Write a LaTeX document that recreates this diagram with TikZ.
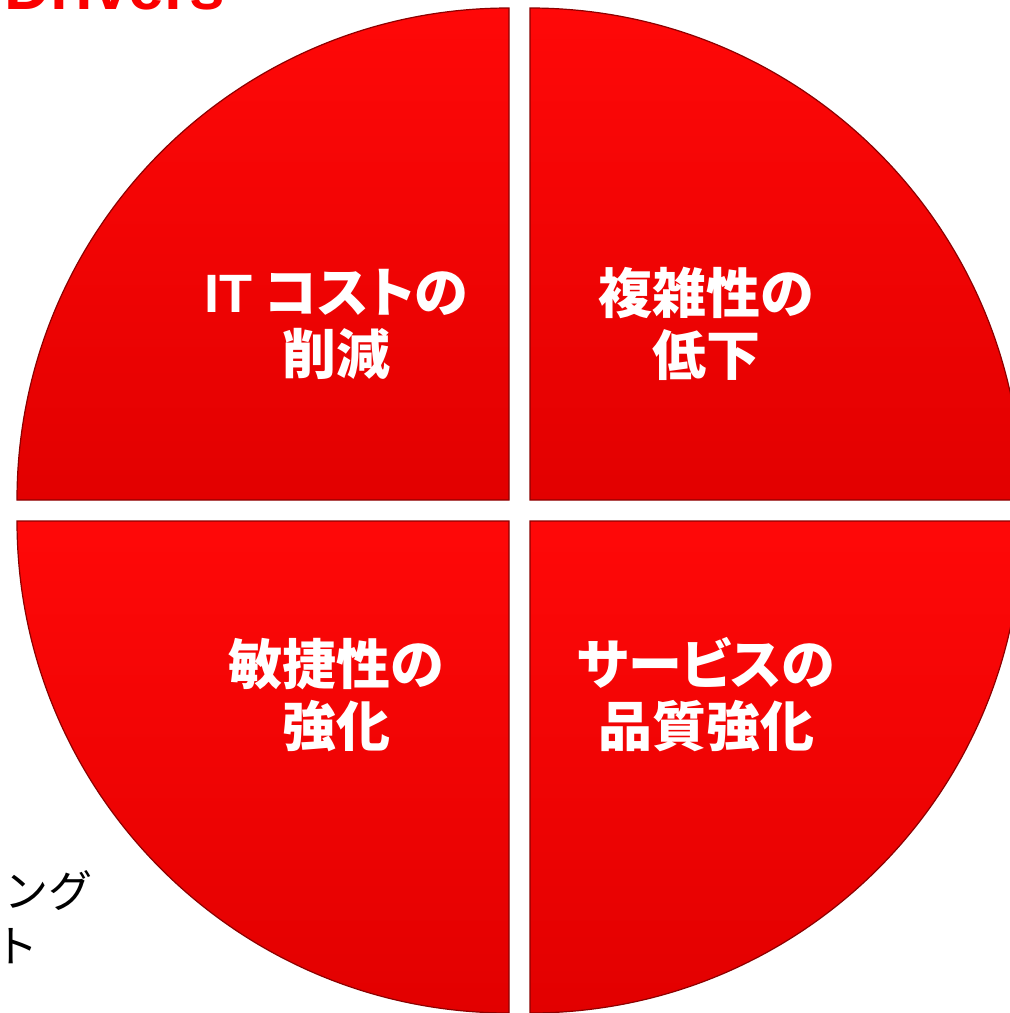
\documentclass[tikz,border=0pt]{standalone}
\usepackage{fontspec}
\newfontfamily\jp{Noto Sans CJK JP}
\newfontfamily\jpp[RawFeature=+palt]{Noto Sans CJK JP}
\newfontfamily\titlefont{Liberation Sans}
\definecolor{slicetop}{RGB}{255,8,8}
\definecolor{slicebot}{RGB}{226,0,0}
\definecolor{sliceedge}{RGB}{140,0,0}
\definecolor{titlered}{RGB}{250,0,0}
\tikzset{
  slice/.style={top color=slicetop,bottom color=slicebot,draw=sliceedge,line width=0.6pt,line join=miter},
  slicelabel/.style={text=white,font=\jp\bfseries\fontsize{27}{31}\selectfont,align=center,inner sep=0pt},
  sidelabel/.style={text=black,font=\jp\fontsize{22}{27}\selectfont,inner sep=0pt,anchor=east},
}
\begin{document}
\begin{tikzpicture}[x=0.5pt,y=-0.5pt]
\useasboundingbox (0,0) rectangle (1009,1013);
\fill[white] (0,0) rectangle (1009,1013);
% title (cut at top)
\node[anchor=base west,inner sep=0pt,text=titlered,font=\titlefont\bfseries\fontsize{32}{36}\selectfont] (title) at (4,9) {Drivers};
% partial side labels
\node[sidelabel] (side1) at (93,891) {ニング};
\node[sidelabel] (side2) at (39,946) {ント};
% quadrants
\path[slice] (509,500) -- (17,500) arc[start angle=180,end angle=270,radius=492] -- cycle;
\path[slice] (530,500) -- (530,8) arc[start angle=270,end angle=360,radius=492] -- cycle;
\path[slice] (530,521) -- (1022,521) arc[start angle=0,end angle=90,radius=492] -- cycle;
\path[slice] (509,521) -- (509,1013) arc[start angle=90,end angle=180,radius=492] -- cycle;
% labels
\node[slicelabel] (q1) at (336,324) {{\titlefont\bfseries IT}~{\jpp\bfseries コストの}\\削減};
\node[slicelabel] (q2) at (706,324) {複雑性の\\低下};
\node[slicelabel] (q3) at (336,695) {敏捷性の\\強化};
\node[slicelabel] (q4) at (706,695) {{\jpp\bfseries サービスの}\\品質強化};
\end{tikzpicture}
\end{document}
